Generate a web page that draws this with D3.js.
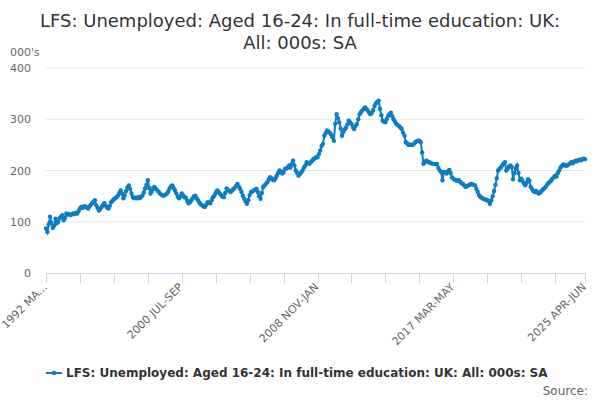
<!DOCTYPE html>
<html><head><meta charset="utf-8">
<script src="https://cdn.jsdelivr.net/npm/d3@7"></script>
<style>body{margin:0;background:#fff;} text{font-family:"DejaVu Sans",sans-serif;}</style>
</head><body><svg id="c" width="600" height="400"></svg>
<script>
const startYear = 1992;
const quarterNames = ["JAN-MAR","FEB-APR","MAR-MAY","APR-JUN","MAY-JUL","JUN-AUG","JUL-SEP","AUG-OCT","SEP-NOV","OCT-DEC","NOV-JAN","DEC-FEB"];
const values = [
87,80,95,110,98,88,92,106,97,100,
107,110,113,103,108,116,114,115,113,114,
116,115,117,116,121,126,129,127,130,130,
128,126,130,133,136,139,142,132,127,122,
125,129,133,136,131,128,126,131,138,141,
144,146,148,151,156,161,155,146,151,160,
167,171,164,155,148,146,147,146,148,146,
149,151,157,165,172,181,166,155,160,166,
168,164,161,158,155,153,151,151,153,155,
159,165,169,171,166,161,155,149,146,150,
155,152,148,147,141,136,138,142,146,150,
151,146,142,137,134,132,130,129,133,138,
137,136,142,148,151,156,161,159,155,152,
149,148,156,165,162,160,158,161,164,166,
170,174,169,164,158,151,145,140,135,142,
152,158,159,161,163,164,158,150,145,156,
168,171,174,177,182,187,185,182,181,185,
190,195,200,198,194,196,203,204,206,210,
206,213,219,210,200,195,190,193,196,200,
206,210,216,214,213,216,219,222,224,226,
226,232,239,248,252,268,273,278,276,274,
270,265,258,291,310,302,294,282,268,275,
280,284,290,297,294,291,285,281,287,291,
300,310,314,317,320,323,320,317,313,310,
313,318,326,331,334,336,320,308,297,295,
294,300,307,310,313,306,300,295,291,289,
287,284,281,274,268,255,253,250,251,250,
250,252,255,257,258,258,255,235,213,216,
219,218,216,215,214,213,213,212,213,205,
200,197,181,197,196,194,198,201,195,187,
184,182,181,180,181,178,175,174,171,168,
169,171,172,174,173,172,171,164,158,152,
148,147,145,144,143,142,140,135,142,150,
160,172,185,200,203,206,210,214,216,200,
204,208,210,207,183,195,204,210,195,181,
184,180,175,171,176,183,180,168,164,160,
158,160,157,155,157,160,163,165,168,172,
175,178,180,184,187,190,188,195,200,206,
209,212,211,209,210,212,214,216,214,217,
219,218,220,221,220,222,223,222
];
// category labels: rolling quarters starting 1992 MAR-MAY
const categories = values.map((v,i)=>{const m=i+2;return (startYear+Math.floor(m/12))+" "+quarterNames[m%12];});
const yTicks = [0,100,200,300,400];
const seriesName = "LFS: Unemployed: Aged 16-24: In full-time education: UK: All: 000s: SA";
const titleLines = ["LFS: Unemployed: Aged 16-24: In full-time education: UK:","All: 000s: SA"];

const svg = d3.select("#c");
const L=46,R=585,T=68,B=273;
const x = d3.scaleLinear().domain([0,values.length-1]).range([L,R]);
const y = d3.scaleLinear().domain([0,400]).range([B,T]);
const blue="#0a7dc4";

svg.selectAll(".t").data(titleLines).enter().append("text")
 .attr("x",300).attr("y",(d,i)=>27+i*22).attr("text-anchor","middle")
 .attr("font-size",18).attr("fill","#333").text(d=>d);

// grid
svg.append("g").selectAll("line").data(yTicks.filter(d=>d>0)).enter().append("line")
 .attr("x1",L).attr("x2",R).attr("y1",d=>y(d)).attr("y2",d=>y(d)).attr("stroke","#e6e6e6");
svg.append("g").selectAll("text").data(yTicks).enter().append("text")
 .attr("x",31).attr("y",d=>y(d)+4).attr("text-anchor","end").attr("font-size",11).attr("fill","#666").text(d=>d);
svg.append("text").attr("x",10).attr("y",56).attr("font-size",11).attr("fill","#666").text("000's");

// x axis
svg.append("line").attr("x1",L).attr("x2",R).attr("y1",B+0.5).attr("y2",B+0.5).attr("stroke","#ccd6eb");
const tickIdx = d3.range(0,values.length,25).concat([values.length-1]);
svg.append("g").selectAll("line").data(tickIdx).enter().append("line")
 .attr("x1",d=>Math.round(x(d))+0.5).attr("x2",d=>Math.round(x(d))+0.5).attr("y1",B).attr("y2",B+10).attr("stroke","#ccd6eb");
const labIdx=[0,100,200,300,values.length-1];
svg.append("g").selectAll("text").data(labIdx).enter().append("text")
 .attr("transform",d=>`translate(${x(d)-1},${B+12}) rotate(-45)`).attr("text-anchor","end").attr("dy","0.35em")
 .attr("font-size",11).attr("fill","#666").text(d=>d===0?"1992 MA...":categories[d]);

// line
const line=d3.line().x((d,i)=>x(i)).y(d=>y(d));
svg.append("path").datum(values).attr("d",line).attr("fill","none").attr("stroke",blue).attr("stroke-width",2);
svg.append("g").selectAll("circle").data(values).enter().append("circle")
 .attr("cx",(d,i)=>x(i)).attr("cy",d=>y(d)).attr("r",2.2).attr("fill",blue);

// legend
svg.append("line").attr("x1",46).attr("x2",62).attr("y1",373).attr("y2",373).attr("stroke",blue).attr("stroke-width",2);
svg.append("circle").attr("cx",54).attr("cy",373).attr("r",2.2).attr("fill",blue);
svg.append("text").attr("x",66).attr("y",377).attr("font-size",12).attr("font-weight","bold").attr("fill","#333").text(seriesName);
svg.append("text").attr("x",588).attr("y",395).attr("text-anchor","end").attr("font-size",12).attr("fill","#666").text("Source:");
</script></body></html>
